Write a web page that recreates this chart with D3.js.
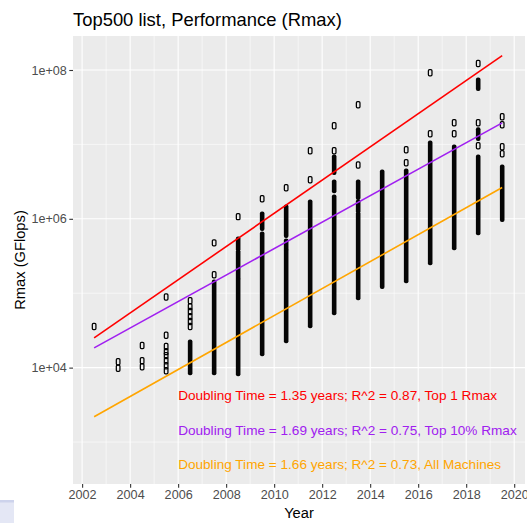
<!DOCTYPE html>
<html>
<head>
	<meta charset="utf-8">
	<title>Top500 Rmax</title>
	<style>
		body { margin: 0; background: #fff; }
		text { font-family: "Liberation Sans", Arial, Helvetica, sans-serif; }
	</style>
</head>
<body>
	<svg id="chart" width="527" height="523"></svg>
<script src="https://cdn.jsdelivr.net/npm/d3@7"></script>
<script>
	// list dates (mid-year)
	const years = [2002.5, 2003.5, 2004.5, 2005.5, 2006.5, 2007.5, 2008.5, 2009.5, 2010.5,
		2011.5, 2012.5, 2013.5, 2014.5, 2015.5, 2016.5, 2017.5, 2018.5, 2019.5]
	// isolated machines (GFlops), one list per year
	const lonePoints = [
		[3.56e4],
		[1.2e4, 9.8e3],
		[1.98e4, 1.24e4, 1.03e4],
		[8.9e4, 2.73e4, 1.92e4, 1.64e4, 1.45e4, 1.24e4, 1.06e4, 9.1e3],
		[7.9e4, 6.6e4, 5.67e4, 4.85e4, 4.16e4, 3.56e4],
		[4.75e5, 1.77e5],
		[1.07e6],
		[1.86e6],
		[2.61e6],
		[8.2e6, 3.35e6],
		[1.78e7, 8.2e6],
		[3.41e7, 5.3e6],
		[],
		[8.5e6, 5.66e6],
		[9.2e7, 1.39e7],
		[1.95e7, 1.39e7],
		[1.22e8, 1.95e7, 9.6e6],
		[2.35e7, 1.84e7, 9.3e6, 7.5e6]
	]
	// dense stacks of machines: [highest, lowest] per stack
	const stacks = [
		[],
		[],
		[],
		[],
		[[2.15e4, 8.75e3]],
		[[1.38e5, 8.75e3]],
		[[5.22e5, 4.07e5], [3.49e5, 1.66e5], [1.47e5, 8.5e3]],
		[[1.13e6, 7.57e5], [6.1e5, 1.58e4]],
		[[1.41e6, 6.1e5], [4.91e5, 4.07e5], [3.6e5, 2.36e4]],
		[[1.64e6, 3.75e4]],
		[[6.6e6, 4.29e6], [3.05e6, 2.45e6], [1.92e6, 5.61e4]],
		[[3.05e6, 1.98e6], [1.64e6, 1.32e6], [1.13e6, 8.93e4]],
		[[4.16e6, 1.26e5]],
		[[4.29e6, 1.51e5]],
		[[1.02e7, 2.64e5]],
		[[9.0e6, 4.2e5]],
		[[7.18e7, 5.78e7], [1.53e7, 1.23e7], [6.6e6, 6.68e5]],
		[[4.85e6, 1.0e6]]
	]
	// fitted trend lines: start / end values
	const fitNames = ["Top 1 Rmax", "Top 10% Rmax", "All Machines"]
	const fitColors = ["red", "#A020F0", "orange"]
	const fitStart = [2.51e4, 1.84e4, 2.19e3]
	const fitEnd = [1.56e8, 1.95e7, 2.64e6]
	const doubling = ["1.35", "1.69", "1.66"]
	const rsq = ["0.87", "0.75", "0.73"]
	const labelY = [4300, 1450, 505]

	const svg = d3.select("#chart")
	const L = 73, R = 525, T = 36, B = 484

	const x = d3.scaleLinear().domain([2001.62, 2020.45]).range([L, R])
	const y = d3.scaleLog().domain([272.9, 2.864e8]).range([B, T])

	// panel
	svg.append("rect").attr("x", L).attr("y", T).attr("width", R - L).attr("height", B - T)
		.attr("fill", "#EBEBEB")

	const grid = svg.append("g").attr("stroke", "#fff")
	const xMinor = d3.range(2003, 2021, 2)
	const xMajor = d3.range(2002, 2021, 2)
	const yMinor = [1e3, 1e5, 1e7]
	const yMajor = [1e4, 1e6, 1e8]
	grid.selectAll(".ym").data(yMinor).enter().append("line")
		.attr("x1", L).attr("x2", R).attr("y1", d => y(d)).attr("y2", d => y(d)).attr("stroke-width", 0.55)
	grid.selectAll(".xm").data(xMinor).enter().append("line")
		.attr("y1", T).attr("y2", B).attr("x1", d => x(d)).attr("x2", d => x(d)).attr("stroke-width", 0.55)
	grid.selectAll(".yM").data(yMajor).enter().append("line")
		.attr("x1", L).attr("x2", R).attr("y1", d => y(d)).attr("y2", d => y(d)).attr("stroke-width", 1.1)
	grid.selectAll(".xM").data(xMajor).enter().append("line")
		.attr("y1", T).attr("y2", B).attr("x1", d => x(d)).attr("x2", d => x(d)).attr("stroke-width", 1.1)

	// stacks of machines
	const stackData = []
	years.forEach((yr, i) => stacks[i].forEach(s => stackData.push({ yr: yr, hi: s[0], lo: s[1] })))
	svg.append("g").selectAll("rect").data(stackData).enter().append("rect")
		.attr("x", d => x(d.yr) - 2.3).attr("width", 4.6)
		.attr("y", d => y(d.hi) - 3.3).attr("height", d => y(d.lo) - y(d.hi) + 6.6)
		.attr("rx", 2).attr("fill", "#050505")

	// single machines
	const pointData = []
	years.forEach((yr, i) => lonePoints[i].forEach(v => pointData.push({ yr: yr, v: v })))
	svg.append("g").selectAll("rect").data(pointData).enter().append("rect")
		.attr("x", d => x(d.yr) - 1.8).attr("width", 3.6)
		.attr("y", d => y(d.v) - 3.1).attr("height", 6.2)
		.attr("rx", 1.1).attr("fill", "none").attr("stroke", "#000").attr("stroke-width", 1.25)

	// trend lines
	svg.append("g").selectAll("line").data(fitStart).enter().append("line")
		.attr("x1", x(years[0])).attr("x2", x(years[years.length - 1]))
		.attr("y1", d => y(d)).attr("y2", (d, i) => y(fitEnd[i]))
		.attr("stroke", (d, i) => fitColors[i]).attr("stroke-width", 1.6)

	// annotations
	svg.append("g").selectAll("text").data(fitNames).enter().append("text")
		.attr("x", x(2006)).attr("y", (d, i) => y(labelY[i])).attr("dy", "0.35em")
		.attr("fill", (d, i) => fitColors[i]).attr("font-size", 13.6)
		.text((d, i) => `Doubling Time = ${doubling[i]} years; R^2 = ${rsq[i]}, ${d}`)

	// axes
	const xAxis = svg.append("g").attr("transform", `translate(0,${B})`)
		.call(d3.axisBottom(x).tickValues(xMajor).tickFormat(d3.format("d")).tickSize(3.7).tickPadding(2.5))
	const yAxis = svg.append("g").attr("transform", `translate(${L},0)`)
		.call(d3.axisLeft(y).tickValues(yMajor).tickFormat(d => "1e+" + String(Math.round(Math.log10(d))).padStart(2, "0"))
			.tickSize(3.7).tickPadding(2.5))
	;[xAxis, yAxis].forEach(a => {
		a.select(".domain").remove()
		a.selectAll(".tick line").attr("stroke", "#333").attr("stroke-width", 1.1)
		a.selectAll(".tick text").attr("fill", "#4D4D4D").attr("font-size", 12.6)
			.style("font-family", "'Liberation Sans', Arial, sans-serif")
	})

	svg.append("text").attr("x", (L + R) / 2).attr("y", 518).attr("text-anchor", "middle")
		.attr("font-size", 14.7).attr("fill", "#000").text("Year")
	svg.append("text").attr("transform", `translate(25,${(T + B) / 2}) rotate(-90)`)
		.attr("text-anchor", "middle").attr("font-size", 14.7).attr("fill", "#000").text("Rmax (GFlops)")
	svg.append("text").attr("x", L).attr("y", 26).attr("font-size", 18.4).attr("fill", "#000")
		.text("Top500 list, Performance (Rmax)")

	// lavender patch in the bottom-left corner of the capture
	svg.append("rect").attr("x", 0).attr("y", 501).attr("width", 14).attr("height", 22).attr("fill", "#E4E7F5")
	svg.append("rect").attr("x", 0).attr("y", 500).attr("width", 14).attr("height", 2.5).attr("fill", "#CDD3EC")
</script>
</body>
</html>
